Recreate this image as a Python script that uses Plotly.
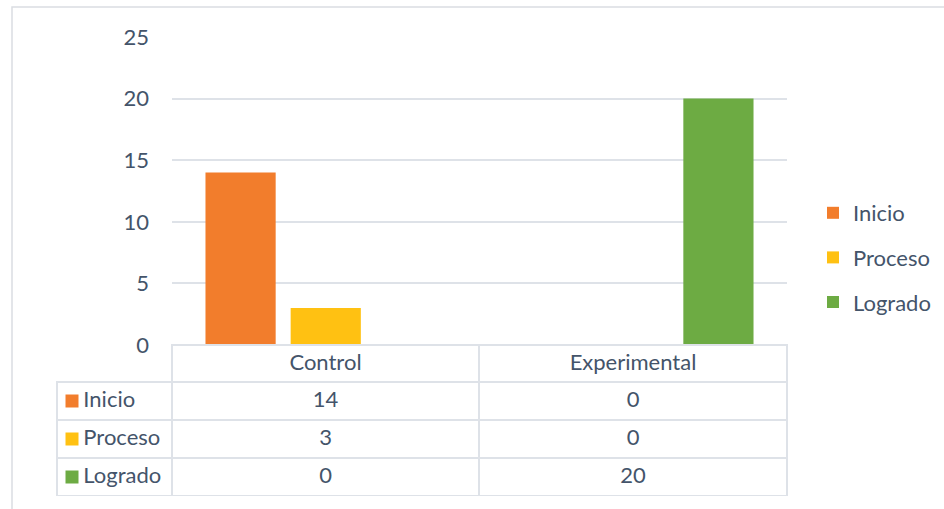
import plotly.graph_objects as go

categories = ["Control", "Experimental"]
series_names = ["Inicio", "Proceso", "Logrado"]
inicio = [14, 0]
proceso = [3, 0]
logrado = [0, 20]
y_ticks = [0, 5, 10, 15, 20, 25]

values = [inicio, proceso, logrado]
colors = ["#F27D2C", "#FFC112", "#6DAB43"]
text_color = "#44546A"
grid_color = "#DEE2E8"
font_family = "Lato"
fs = 22

W, H = 944, 509
px = lambda v: v / W
py = lambda v: 1 - v / H

fig = go.Figure()
for name, vals, col in zip(series_names, values, colors):
    fig.add_trace(go.Bar(
        x=categories, y=vals, name=name, legendgroup=name,
        marker=dict(color=col, line=dict(width=0)),
        xaxis="x", yaxis="y",
    ))

# legend keys of the data table (one per series row)
fig.add_trace(go.Scatter(
    x=[0] * len(series_names), y=series_names, mode="markers",
    marker=dict(symbol="square", size=13, color=colors, line=dict(width=0)),
    xaxis="x2", yaxis="y2", showlegend=False, hoverinfo="skip",
))

# data table under the chart
cols = [series_names] + [[str(v[i]) for v in values] for i in range(len(categories))]
fig.add_trace(go.Table(
    domain=dict(x=[px(57), px(787)], y=[py(497), py(345)]),
    columnwidth=[115, 307, 308],
    header=dict(
        values=[""] + categories,
        align=["left", "center", "center"],
        height=37,
        fill=dict(color=["rgba(0,0,0,0)", "white", "white"]),
        line=dict(color=["rgba(0,0,0,0)", grid_color, grid_color], width=1.5),
        font=dict(family=font_family, size=fs, color=text_color),
    ),
    cells=dict(
        values=cols,
        prefix=["\u2002\u2004", "", ""],
        align=["left", "center", "center"],
        height=38,
        fill=dict(color="rgba(0,0,0,0)"),
        line=dict(color=grid_color, width=1.5),
        font=dict(family=font_family, size=fs, color=text_color),
    ),
))

fig.update_layout(
    width=W, height=H,
    margin=dict(l=0, r=0, t=0, b=0, autoexpand=False),
    paper_bgcolor="white", plot_bgcolor="rgba(0,0,0,0)",
    font=dict(family=font_family, size=fs, color=text_color),
    barmode="group", bargap=0.169, bargroupgap=0.176,
    showlegend=True,
    legend=dict(
        x=px(813), y=py(192), xanchor="left", yanchor="top",
        font=dict(family=font_family, size=fs, color=text_color),
        tracegroupgap=13, bgcolor="rgba(0,0,0,0)",
    ),
    xaxis=dict(
        domain=[px(172), px(787)], anchor="y",
        showticklabels=False, showgrid=False, zeroline=False,
        showline=False, fixedrange=True,
    ),
    yaxis=dict(
        domain=[py(345), py(37)], anchor="x",
        range=[0, 25], tickvals=y_ticks, ticktext=[str(t) for t in y_ticks],
        showgrid=True, gridcolor=grid_color, gridwidth=1.5,
        zeroline=True, zerolinecolor=grid_color, zerolinewidth=1.5,
        showline=False, ticks="", ticklabelstandoff=22,
        tickfont=dict(family=font_family, size=fs, color=text_color),
    ),
    xaxis2=dict(
        domain=[px(57), px(172)], anchor="y2", range=[-15, 100],
        visible=False, fixedrange=True,
    ),
    yaxis2=dict(
        domain=[py(496), py(382)], anchor="x2", type="category",
        range=[len(series_names) - 0.5, -0.5],
        visible=False, fixedrange=True,
    ),
    shapes=[dict(
        type="rect", xref="paper", yref="paper",
        x0=px(12), x1=1.01, y0=-0.01, y1=py(7),
        line=dict(color="#DADDE2", width=1.5), fillcolor="rgba(0,0,0,0)",
        layer="below",
    )],
)

fig.write_html("out.html", config={"displayModeBar": False},
               post_script="document.body.style.margin='0px';")
